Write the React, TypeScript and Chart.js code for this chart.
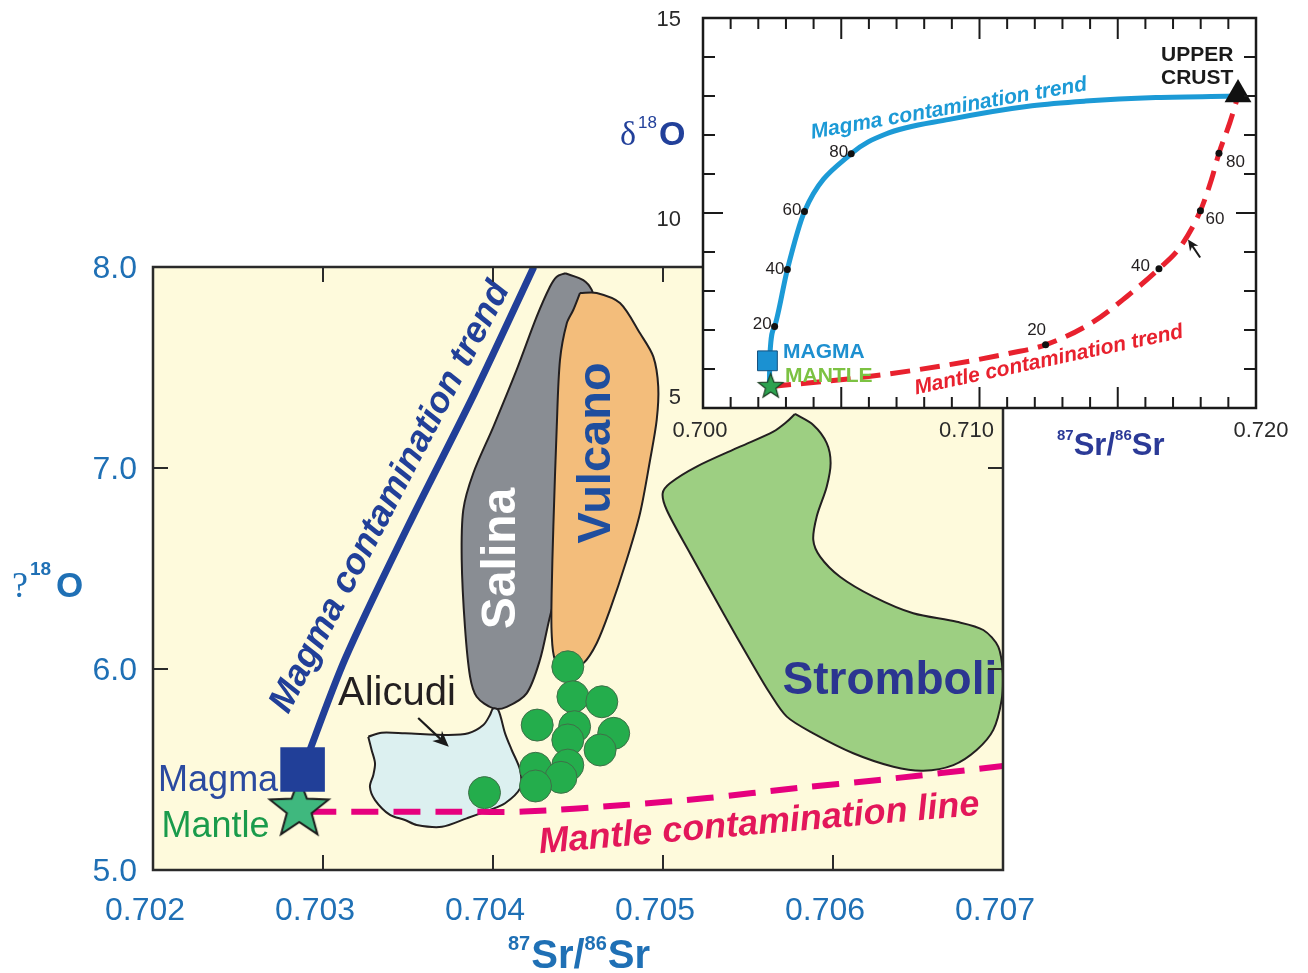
import React, { useEffect, useRef } from 'react';
import { Chart, registerables } from 'chart.js';

Chart.register(...registerables);

const SANS = '"Liberation Sans", Arial, Helvetica, sans-serif';
const SERIF = '"Liberation Serif", "Times New Roman", serif';

// ---------------- main chart data ----------------
const mainXTicks = [0.702, 0.703, 0.704, 0.705, 0.706, 0.707];
const mainYTicks = [5.0, 6.0, 7.0, 8.0];

const magmaTrend = [
  { x: 0.70288, y: 5.50 }, { x: 0.70313, y: 6.05 }, { x: 0.70350, y: 6.71 },
  { x: 0.70389, y: 7.37 }, { x: 0.70424, y: 8.0 },
];
const mantleLine = [
  { x: 0.70292, y: 5.29 }, { x: 0.70379, y: 5.29 }, { x: 0.70418, y: 5.291 },
  { x: 0.70477, y: 5.323 }, { x: 0.70526, y: 5.358 }, { x: 0.70579, y: 5.408 },
  { x: 0.70627, y: 5.448 }, { x: 0.70700, y: 5.517 },
];
const magmaPoint = [{ x: 0.70288, y: 5.50 }];
const mantlePoint = [{ x: 0.70286, y: 5.303 }];
const aeolianDots = [
  { x: 0.70444, y: 6.011 }, { x: 0.70447, y: 5.862 }, { x: 0.70464, y: 5.837 },
  { x: 0.70426, y: 5.721 }, { x: 0.70448, y: 5.713 }, { x: 0.70471, y: 5.680 },
  { x: 0.70444, y: 5.647 }, { x: 0.70463, y: 5.597 }, { x: 0.70444, y: 5.522 },
  { x: 0.70425, y: 5.506 }, { x: 0.70440, y: 5.461 }, { x: 0.70425, y: 5.418 },
  { x: 0.70395, y: 5.385 },
];
const stromboliField = [
  { x: 0.705776, y: 7.269 }, { x: 0.705884, y: 7.214 }, { x: 0.705963, y: 7.124 },
  { x: 0.705986, y: 7.025 }, { x: 0.705963, y: 6.907 }, { x: 0.705904, y: 6.758 },
  { x: 0.705884, y: 6.642 }, { x: 0.705924, y: 6.559 }, { x: 0.706041, y: 6.459 },
  { x: 0.706237, y: 6.360 }, { x: 0.706472, y: 6.277 }, { x: 0.706728, y: 6.235 },
  { x: 0.706884, y: 6.194 }, { x: 0.706972, y: 6.111 }, { x: 0.706999, y: 5.979 },
  { x: 0.706992, y: 5.846 }, { x: 0.706943, y: 5.697 }, { x: 0.706845, y: 5.597 },
  { x: 0.706708, y: 5.522 }, { x: 0.706531, y: 5.494 }, { x: 0.706355, y: 5.514 },
  { x: 0.706119, y: 5.581 }, { x: 0.705884, y: 5.680 }, { x: 0.705728, y: 5.763 },
  { x: 0.705629, y: 5.879 }, { x: 0.705512, y: 6.045 }, { x: 0.705355, y: 6.277 },
  { x: 0.705159, y: 6.576 }, { x: 0.705022, y: 6.791 }, { x: 0.704998, y: 6.874 },
  { x: 0.705041, y: 6.924 }, { x: 0.705198, y: 7.007 }, { x: 0.705453, y: 7.106 },
  { x: 0.705649, y: 7.181 }, { x: 0.705728, y: 7.230 }, { x: 0.705776, y: 7.269 },
];
const salinaField = [
  { x: 0.704424, y: 7.969 }, { x: 0.704531, y: 7.935 }, { x: 0.704581, y: 7.886 },
  { x: 0.704600, y: 7.819 }, { x: 0.704582, y: 7.338 }, { x: 0.704500, y: 6.841 },
  { x: 0.704394, y: 6.393 }, { x: 0.704345, y: 6.294 }, { x: 0.704276, y: 6.045 },
  { x: 0.704198, y: 5.879 }, { x: 0.704081, y: 5.812 }, { x: 0.704002, y: 5.804 },
  { x: 0.703904, y: 5.862 }, { x: 0.703865, y: 5.962 }, { x: 0.703835, y: 6.210 },
  { x: 0.703816, y: 6.542 }, { x: 0.703825, y: 6.791 }, { x: 0.703884, y: 6.974 },
  { x: 0.704002, y: 7.205 }, { x: 0.704139, y: 7.488 }, { x: 0.704257, y: 7.753 },
  { x: 0.704335, y: 7.902 }, { x: 0.704375, y: 7.952 }, { x: 0.704424, y: 7.969 },
];
const vulcanoField = [
  { x: 0.704512, y: 7.871 }, { x: 0.704610, y: 7.871 }, { x: 0.704747, y: 7.821 },
  { x: 0.704865, y: 7.670 }, { x: 0.704943, y: 7.554 }, { x: 0.704972, y: 7.405 },
  { x: 0.704963, y: 7.239 }, { x: 0.704924, y: 7.040 }, { x: 0.704865, y: 6.775 },
  { x: 0.704786, y: 6.542 }, { x: 0.704688, y: 6.294 }, { x: 0.704610, y: 6.128 },
  { x: 0.704531, y: 6.028 }, { x: 0.704434, y: 5.995 }, { x: 0.704365, y: 6.045 },
  { x: 0.704345, y: 6.178 }, { x: 0.704345, y: 6.377 }, { x: 0.704355, y: 6.708 },
  { x: 0.704375, y: 7.205 }, { x: 0.704394, y: 7.537 }, { x: 0.704434, y: 7.720 },
  { x: 0.704472, y: 7.786 }, { x: 0.704512, y: 7.871 },
];
const alicudiField = [
  { x: 0.703266, y: 5.663 }, { x: 0.703345, y: 5.683 }, { x: 0.703482, y: 5.680 },
  { x: 0.703737, y: 5.672 }, { x: 0.703855, y: 5.680 }, { x: 0.703943, y: 5.721 },
  { x: 0.703982, y: 5.771 }, { x: 0.704000, y: 5.803 }, { x: 0.704031, y: 5.796 },
  { x: 0.704071, y: 5.680 }, { x: 0.704110, y: 5.597 }, { x: 0.704159, y: 5.498 },
  { x: 0.704159, y: 5.406 }, { x: 0.704071, y: 5.332 }, { x: 0.703982, y: 5.299 },
  { x: 0.703845, y: 5.257 }, { x: 0.703700, y: 5.215 }, { x: 0.703551, y: 5.224 },
  { x: 0.703482, y: 5.249 }, { x: 0.703394, y: 5.274 }, { x: 0.703306, y: 5.348 },
  { x: 0.703276, y: 5.414 }, { x: 0.703296, y: 5.473 }, { x: 0.703306, y: 5.531 },
  { x: 0.703286, y: 5.597 }, { x: 0.703266, y: 5.663 },
];

// ---------------- inset data ----------------
const insetXTicks = [0.700, 0.710, 0.720];
const insetYTicks = [5, 10, 15];
const insetMagmaCurve = [
  { x: 0.70240, y: 5.54 }, { x: 0.70242, y: 6.36 }, { x: 0.70259, y: 7.09 },
  { x: 0.70305, y: 8.55 }, { x: 0.70367, y: 10.04 }, { x: 0.70536, y: 11.52 },
  { x: 0.70659, y: 12.02 }, { x: 0.70891, y: 12.40 }, { x: 0.71190, y: 12.75 },
  { x: 0.71384, y: 12.87 }, { x: 0.71638, y: 12.96 }, { x: 0.71937, y: 13.00 },
];
const insetMantleCurve = [
  { x: 0.70246, y: 5.55 }, { x: 0.70592, y: 5.80 }, { x: 0.70890, y: 6.11 },
  { x: 0.71114, y: 6.41 }, { x: 0.71239, y: 6.62 }, { x: 0.71414, y: 7.22 },
  { x: 0.71533, y: 7.86 }, { x: 0.71649, y: 8.57 }, { x: 0.71728, y: 9.15 },
  { x: 0.71799, y: 10.06 }, { x: 0.71839, y: 10.86 }, { x: 0.71866, y: 11.53 },
  { x: 0.71906, y: 12.33 }, { x: 0.71935, y: 13.0 },
];
const insetMagmaMarks = [
  { x: 0.70259, y: 7.09 }, { x: 0.70305, y: 8.55 }, { x: 0.70367, y: 10.04 }, { x: 0.70536, y: 11.52 },
];
const insetMantleMarks = [
  { x: 0.71239, y: 6.62 }, { x: 0.71649, y: 8.57 }, { x: 0.71799, y: 10.06 }, { x: 0.71866, y: 11.53 },
];
const markLabels = ['20', '40', '60', '80'];
const insetMagma = [{ x: 0.70233, y: 6.21 }];
const insetMantle = [{ x: 0.70245, y: 5.55 }];
const upperCrust = [{ x: 0.71935, y: 13.04 }];

// ---------------- annotation layout (positions / styles) ----------------
const BLUE_AX = '#1f70b5';
const mainTexts = [
  { text: 'Salina', x: 0.70405, y: 6.55, font: `bold 48px ${SANS}`, color: '#ffffff', align: 'center', base: 'middle', rot: -90 },
  { text: 'Vulcano', x: 0.70461, y: 7.075, font: `bold 47px ${SANS}`, color: '#1f4e9e', align: 'center', base: 'middle', rot: -90 },
  { text: 'Stromboli', x: 0.706335, y: 5.876, font: `bold 46px ${SANS}`, color: '#2b3590', align: 'center', base: 'alphabetic', rot: 0 },
  { text: 'Alicudi', x: 0.703088, y: 5.821, font: `40px ${SANS}`, color: '#231f20', align: 'left', base: 'alphabetic', rot: 0 },
  { text: 'Magma', x: 0.70203, y: 5.393, font: `36px ${SANS}`, color: '#2b4aa0', align: 'left', base: 'alphabetic', rot: 0 },
  { text: 'Mantle', x: 0.70205, y: 5.164, font: `36px ${SANS}`, color: '#1a9b4b', align: 'left', base: 'alphabetic', rot: 0 },
  { text: 'Mantle contamination line', x: 0.70557, y: 5.179, font: `italic bold 36px ${SANS}`, color: '#e3175a', align: 'center', base: 'alphabetic', rot: -5 },
  { text: 'Magma contamination trend', x: 0.703447, y: 6.832, font: `italic bold 36px ${SANS}`, color: '#213f98', align: 'center', base: 'alphabetic', rot: -62.5 },
];
const alicudiArrow = { from: { x: 0.70356, y: 5.756 }, to: { x: 0.70374, y: 5.613 } };

const insetTexts = [
  { text: 'MAGMA', x: 0.702893, y: 6.285, font: `bold 21px ${SANS}`, color: '#1e90d0', align: 'left', base: 'alphabetic', rot: 0 },
  { text: 'MANTLE', x: 0.702966, y: 5.668, font: `bold 21px ${SANS}`, color: '#7cc242', align: 'left', base: 'alphabetic', rot: 0 },
  { text: 'UPPER', x: 0.716564, y: 13.895, font: `bold 21px ${SANS}`, color: '#1a1a1a', align: 'left', base: 'alphabetic', rot: 0 },
  { text: 'CRUST', x: 0.716564, y: 13.303, font: `bold 21px ${SANS}`, color: '#1a1a1a', align: 'left', base: 'alphabetic', rot: 0 },
  { text: 'Magma contamination trend', x: 0.708933, y: 12.53, font: `italic bold 21px ${SANS}`, color: '#1c9ad6', align: 'center', base: 'alphabetic', rot: -10 },
  { text: 'Mantle contamination trend', x: 0.71255, y: 6.08, font: `italic bold 21px ${SANS}`, color: '#e8212e', align: 'center', base: 'alphabetic', rot: -12 },
];
const magmaMarkLabelPos = [
  { dx: -3, dy: -2, align: 'right' }, { dx: -3, dy: 0, align: 'right' },
  { dx: -3, dy: -1, align: 'right' }, { dx: -3, dy: -1, align: 'right' },
];
const mantleMarkLabelPos = [
  { dx: -9, dy: -15, align: 'center' }, { dx: -9, dy: -2, align: 'right' },
  { dx: 5, dy: 9, align: 'left' }, { dx: 7, dy: 9, align: 'left' },
];
const insetArrow = { from: { x: 0.71798, y: 8.86 }, to: { x: 0.71754, y: 9.32 } };
// small pixel nudges of the inset tick labels as printed in the figure
const insetXLabelNudge = [-3, -13, 5];
const insetYLabelNudge = [-10, 7, 2];

// ---------------- helpers ----------------
function drawText(ctx: any, t: any, px: number, py: number) {
  ctx.save();
  ctx.translate(px, py);
  if (t.rot) ctx.rotate((t.rot * Math.PI) / 180);
  ctx.font = t.font;
  ctx.fillStyle = t.color;
  ctx.textAlign = t.align || 'left';
  ctx.textBaseline = t.base || 'alphabetic';
  ctx.fillText(t.text, 0, 0);
  ctx.restore();
}

function drawArrow(ctx: any, x1: number, y1: number, x2: number, y2: number, lw: number, head: number, half: number) {
  const ang = Math.atan2(y2 - y1, x2 - x1);
  ctx.save();
  ctx.strokeStyle = '#1a1a1a';
  ctx.fillStyle = '#1a1a1a';
  ctx.lineWidth = lw;
  ctx.beginPath();
  ctx.moveTo(x1, y1);
  ctx.lineTo(x2 - Math.cos(ang) * head * 0.7, y2 - Math.sin(ang) * head * 0.7);
  ctx.stroke();
  ctx.beginPath();
  ctx.moveTo(x2, y2);
  ctx.lineTo(x2 - Math.cos(ang) * head - Math.sin(ang) * half, y2 - Math.sin(ang) * head + Math.cos(ang) * half);
  ctx.lineTo(x2 - Math.cos(ang) * head * 0.7, y2 - Math.sin(ang) * head * 0.7);
  ctx.lineTo(x2 - Math.cos(ang) * head + Math.sin(ang) * half, y2 - Math.sin(ang) * head - Math.cos(ang) * half);
  ctx.closePath();
  ctx.fill();
  ctx.restore();
}

function makeStar(R: number, fill: string, stroke: string, lw: number) {
  const pad = lw + 2;
  const size = Math.ceil(2 * (R + pad));
  const c = document.createElement('canvas');
  c.width = size;
  c.height = size;
  const g = c.getContext('2d') as CanvasRenderingContext2D;
  const cx = size / 2;
  const cy = size / 2;
  const r2 = R * 0.42;
  g.beginPath();
  for (let i = 0; i < 10; i++) {
    const rr = i % 2 === 0 ? R : r2;
    const a = -Math.PI / 2 + (i * Math.PI) / 5;
    const px = cx + rr * Math.cos(a);
    const py = cy + rr * Math.sin(a);
    if (i === 0) g.moveTo(px, py);
    else g.lineTo(px, py);
  }
  g.closePath();
  g.fillStyle = fill;
  g.fill();
  g.lineWidth = lw;
  g.strokeStyle = stroke;
  g.lineJoin = 'miter';
  g.stroke();
  return c;
}

function drawPieces(ctx: any, pieces: any[], x0: number) {
  let x = x0;
  for (const p of pieces) {
    ctx.font = p.font;
    ctx.fillStyle = p.color;
    ctx.textAlign = 'left';
    ctx.textBaseline = 'alphabetic';
    const px = p.x !== undefined ? p.x : x;
    ctx.fillText(p.text, px, p.y);
    x = px + ctx.measureText(p.text).width + (p.gap || 0);
  }
}

function noPad(s: any) {
  s.paddingTop = 0;
  s.paddingBottom = 0;
  s.paddingLeft = 0;
  s.paddingRight = 0;
}

// ---------------- plugins ----------------
const mainDecor = {
  id: 'mainDecor',
  beforeDraw(chart: any) {
    const { ctx, chartArea: a } = chart;
    ctx.save();
    ctx.fillStyle = '#fefadc';
    ctx.fillRect(a.left, a.top, a.right - a.left, a.bottom - a.top);
    ctx.restore();
  },
  afterDatasetsDraw(chart: any) {
    const { ctx, chartArea: a, scales } = chart;
    const xs = scales.x;
    const ys = scales.y;
    ctx.save();
    ctx.beginPath();
    ctx.rect(a.left, a.top, a.right - a.left, a.bottom - a.top);
    ctx.clip();
    for (const t of mainTexts) drawText(ctx, t, xs.getPixelForValue(t.x), ys.getPixelForValue(t.y));
    drawArrow(
      ctx,
      xs.getPixelForValue(alicudiArrow.from.x), ys.getPixelForValue(alicudiArrow.from.y),
      xs.getPixelForValue(alicudiArrow.to.x), ys.getPixelForValue(alicudiArrow.to.y),
      2.2, 16, 7
    );
    ctx.restore();

    // ticks + frame
    ctx.save();
    ctx.strokeStyle = '#2a2a2a';
    ctx.lineWidth = 2;
    ctx.beginPath();
    for (const v of mainXTicks.slice(1, -1)) {
      const px = xs.getPixelForValue(v);
      ctx.moveTo(px, a.bottom); ctx.lineTo(px, a.bottom - 15);
      ctx.moveTo(px, a.top); ctx.lineTo(px, a.top + 15);
    }
    for (const v of mainYTicks.slice(1, -1)) {
      const py = ys.getPixelForValue(v);
      ctx.moveTo(a.left, py); ctx.lineTo(a.left + 15, py);
      ctx.moveTo(a.right, py); ctx.lineTo(a.right - 15, py);
    }
    ctx.stroke();
    ctx.lineWidth = 2.5;
    ctx.strokeRect(a.left, a.top, a.right - a.left, a.bottom - a.top);
    ctx.restore();

    // axis titles
    ctx.save();
    drawPieces(ctx, [
      { text: '87', font: `bold 20px ${SANS}`, color: BLUE_AX, y: a.bottom + 80, gap: 1 },
      { text: 'Sr/', font: `bold 40px ${SANS}`, color: BLUE_AX, y: a.bottom + 98 },
      { text: '86', font: `bold 20px ${SANS}`, color: BLUE_AX, y: a.bottom + 80, gap: 1 },
      { text: 'Sr', font: `bold 40px ${SANS}`, color: BLUE_AX, y: a.bottom + 98 },
    ], a.left + 355);
    drawPieces(ctx, [
      { text: '?', font: `36px ${SERIF}`, color: BLUE_AX, x: a.left - 141, y: a.top + 330 },
      { text: '18', font: `bold 19px ${SANS}`, color: BLUE_AX, x: a.left - 123, y: a.top + 308 },
      { text: 'O', font: `bold 35px ${SANS}`, color: BLUE_AX, x: a.left - 97, y: a.top + 330 },
    ], 0);
    ctx.restore();
  },
};

const insetDecor = {
  id: 'insetDecor',
  beforeDraw(chart: any) {
    const { ctx, chartArea: a } = chart;
    ctx.save();
    ctx.fillStyle = '#ffffff';
    ctx.fillRect(a.left, a.top, a.right - a.left, a.bottom - a.top);
    ctx.restore();
  },
  afterDatasetsDraw(chart: any) {
    const { ctx, chartArea: a, scales } = chart;
    const xs = scales.x;
    const ys = scales.y;
    // ticks + frame
    ctx.save();
    ctx.strokeStyle = '#1a1a1a';
    ctx.lineWidth = 2;
    ctx.beginPath();
    for (let i = 1; i < 20; i++) {
      const px = xs.getPixelForValue(0.7 + i * 0.001);
      const L = i % 5 === 0 ? 21 : 11;
      ctx.moveTo(px, a.bottom); ctx.lineTo(px, a.bottom - L);
      ctx.moveTo(px, a.top); ctx.lineTo(px, a.top + L);
    }
    for (let v = 6; v < 15; v++) {
      const py = ys.getPixelForValue(v);
      const L = v === 10 ? 20 : 12;
      ctx.moveTo(a.left, py); ctx.lineTo(a.left + L, py);
      ctx.moveTo(a.right, py); ctx.lineTo(a.right - L, py);
    }
    ctx.stroke();
    ctx.lineWidth = 2.5;
    ctx.strokeRect(a.left, a.top, a.right - a.left, a.bottom - a.top);
    ctx.restore();

    // tick labels
    ctx.save();
    const tickFont = `22px ${SANS}`;
    insetXTicks.forEach((v, i) => {
      drawText(ctx, { text: v.toFixed(3), font: tickFont, color: '#2a2a2a', align: 'center', base: 'middle' },
        xs.getPixelForValue(v) + insetXLabelNudge[i], a.bottom + 23);
    });
    insetYTicks.forEach((v, i) => {
      drawText(ctx, { text: String(v), font: tickFont, color: '#2a2a2a', align: 'right', base: 'middle' },
        a.left - 22, ys.getPixelForValue(v) + insetYLabelNudge[i]);
    });
    ctx.restore();

    ctx.save();
    const labFont = `17px ${SANS}`;
    insetMagmaMarks.forEach((p, i) => {
      const s = magmaMarkLabelPos[i];
      drawText(ctx, { text: markLabels[i], font: labFont, color: '#231f20', align: s.align, base: 'middle' },
        xs.getPixelForValue(p.x) + s.dx, ys.getPixelForValue(p.y) + s.dy);
    });
    insetMantleMarks.forEach((p, i) => {
      const s = mantleMarkLabelPos[i];
      drawText(ctx, { text: markLabels[i], font: labFont, color: '#231f20', align: s.align, base: 'middle' },
        xs.getPixelForValue(p.x) + s.dx, ys.getPixelForValue(p.y) + s.dy);
    });
    for (const t of insetTexts) drawText(ctx, t, xs.getPixelForValue(t.x), ys.getPixelForValue(t.y));
    drawArrow(
      ctx,
      xs.getPixelForValue(insetArrow.from.x), ys.getPixelForValue(insetArrow.from.y),
      xs.getPixelForValue(insetArrow.to.x), ys.getPixelForValue(insetArrow.to.y),
      2, 11, 5
    );
    ctx.restore();

    // axis titles
    ctx.save();
    const NAVY = '#22409a';
    drawPieces(ctx, [
      { text: '87', font: `bold 15px ${SANS}`, color: '#2b3a97', y: a.bottom + 32 },
      { text: 'Sr/', font: `bold 31px ${SANS}`, color: '#2b3a97', y: a.bottom + 47 },
      { text: '86', font: `bold 15px ${SANS}`, color: '#2b3a97', y: a.bottom + 32 },
      { text: 'Sr', font: `bold 31px ${SANS}`, color: '#2b3a97', y: a.bottom + 47 },
    ], a.left + 354);
    drawPieces(ctx, [
      { text: 'δ', font: `34px ${SERIF}`, color: NAVY, x: a.left - 83, y: a.top + 127 },
      { text: '18', font: `17px ${SANS}`, color: NAVY, x: a.left - 65, y: a.top + 110 },
      { text: 'O', font: `bold 34px ${SANS}`, color: NAVY, x: a.left - 44, y: a.top + 127 },
    ], 0);
    ctx.restore();
  },
};

function polygon(data: any[], fillColor: string, order: number) {
  return {
    data,
    showLine: true,
    fill: 'shape',
    backgroundColor: fillColor,
    borderColor: '#231f20',
    borderWidth: 2,
    pointRadius: 0,
    tension: 0.3,
    order,
  };
}

export default function App() {
  const mainRef = useRef<HTMLCanvasElement>(null);
  const insetRef = useRef<HTMLCanvasElement>(null);

  useEffect(() => {
    const bigStar = makeStar(31, '#3fb87e', '#1c1c1c', 2);
    const smallStar = makeStar(13, '#2ca24f', '#1c3f24', 1.2);

    const main = new Chart(mainRef.current as HTMLCanvasElement, {
      type: 'scatter',
      data: {
        datasets: [
          { data: magmaPoint, pointStyle: 'rect', pointRadius: 31.5, backgroundColor: '#213f98', borderWidth: 0, order: 0 } as any,
          { data: aeolianDots, pointRadius: 16, backgroundColor: '#24ad4c', borderColor: '#3f6f48', borderWidth: 1, order: 1 },
          { data: mantlePoint, pointStyle: bigStar, pointRadius: 31, order: 2 } as any,
          { data: mantleLine, showLine: true, borderColor: '#e6007e', borderWidth: 6, borderDash: [27, 15], pointRadius: 0, tension: 0.3, order: 3 },
          { data: magmaTrend, showLine: true, borderColor: '#213f98', borderWidth: 7, pointRadius: 0, tension: 0.3, order: 4 },
          polygon(alicudiField, '#dcf0f0', 5),
          polygon(vulcanoField, '#f3bd7b', 6),
          polygon(salinaField, '#898d93', 7),
          polygon(stromboliField, '#9dcf82', 8),
        ] as any,
      },
      options: {
        responsive: false,
        animation: false,
        devicePixelRatio: 1,
        events: [],
        layout: { padding: { left: 0, top: 267, right: 305, bottom: 0 } },
        plugins: { legend: { display: false }, tooltip: { enabled: false } },
        scales: {
          x: {
            type: 'linear', min: 0.702, max: 0.707,
            afterBuildTicks: (s: any) => { s.ticks = mainXTicks.map((v) => ({ value: v })); },
            afterFit: (s: any) => { s.height = 103; noPad(s); },
            grid: { display: false, drawTicks: false },
            border: { display: false },
            ticks: {
              font: { family: SANS, size: 32 }, color: BLUE_AX, padding: 22, labelOffset: -8,
              maxRotation: 0, autoSkip: false, callback: (v: any) => Number(v).toFixed(3),
            },
          },
          y: {
            type: 'linear', min: 5, max: 8,
            afterBuildTicks: (s: any) => { s.ticks = mainYTicks.map((v) => ({ value: v })); },
            afterFit: (s: any) => { s.width = 153; noPad(s); },
            grid: { display: false, drawTicks: false },
            border: { display: false },
            ticks: {
              font: { family: SANS, size: 32 }, color: BLUE_AX, padding: 16, labelOffset: 2,
              autoSkip: false, callback: (v: any) => Number(v).toFixed(1),
            },
          },
        },
      } as any,
      plugins: [mainDecor],
    });

    const inset = new Chart(insetRef.current as HTMLCanvasElement, {
      type: 'scatter',
      data: {
        datasets: [
          { data: upperCrust, pointStyle: 'triangle', pointRadius: 15.5, backgroundColor: '#111111', borderWidth: 0, order: 0 },
          { data: insetMagma, pointStyle: 'rect', pointRadius: 14, backgroundColor: '#1b91d2', borderColor: '#14507e', borderWidth: 1, order: 1 },
          { data: insetMantle, pointStyle: smallStar, pointRadius: 13, order: 2 } as any,
          { data: insetMagmaMarks, pointRadius: 3.5, backgroundColor: '#111111', borderWidth: 0, order: 3 },
          { data: insetMantleMarks, pointRadius: 3.5, backgroundColor: '#111111', borderWidth: 0, order: 3 },
          { data: insetMantleCurve, showLine: true, borderColor: '#e8212e', borderWidth: 5, borderDash: [20, 10], pointRadius: 0, cubicInterpolationMode: 'monotone', order: 5 },
          { data: insetMagmaCurve, showLine: true, borderColor: '#1c9ad6', borderWidth: 5, pointRadius: 0, cubicInterpolationMode: 'monotone', order: 6 },
        ] as any,
      },
      options: {
        responsive: false,
        animation: false,
        devicePixelRatio: 1,
        events: [],
        layout: { padding: { left: 0, top: 18, right: 52, bottom: 0 } },
        plugins: { legend: { display: false }, tooltip: { enabled: false } },
        scales: {
          x: {
            type: 'linear', min: 0.7, max: 0.72,
            afterBuildTicks: (s: any) => { s.ticks = insetXTicks.map((v) => ({ value: v })); },
            afterFit: (s: any) => { s.height = 62; noPad(s); },
            grid: { display: false, drawTicks: false },
            border: { display: false },
            ticks: { display: false },
          },
          y: {
            type: 'linear', min: 5, max: 15,
            afterBuildTicks: (s: any) => { s.ticks = insetYTicks.map((v) => ({ value: v })); },
            afterFit: (s: any) => { s.width = 103; noPad(s); },
            grid: { display: false, drawTicks: false },
            border: { display: false },
            ticks: { display: false },
          },
        },
      } as any,
      plugins: [insetDecor],
    });

    return () => {
      main.destroy();
      inset.destroy();
    };
  }, []);

  return (
    <div style={{ position: 'absolute', left: 0, top: 0, width: 1308, height: 973, background: '#ffffff', overflow: 'hidden' }}>
      <canvas ref={mainRef} width={1308} height={973} style={{ position: 'absolute', left: 0, top: 0 }} />
      <canvas ref={insetRef} width={708} height={470} style={{ position: 'absolute', left: 600, top: 0 }} />
    </div>
  );
}
